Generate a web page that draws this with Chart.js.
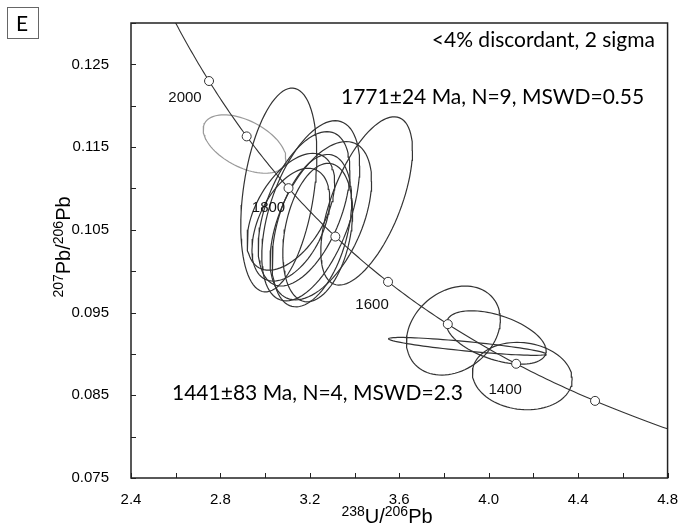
<!DOCTYPE html>
<html>
<head>
<meta charset="utf-8">
<script src="https://cdn.jsdelivr.net/npm/chart.js@4/dist/chart.umd.min.js"></script>
<style>
  body { margin: 0; background: #fff; }
  #wrap { width: 683px; height: 529px; }
</style>
</head>
<body>
<div id="wrap"><canvas id="myChart"></canvas></div>
<script>
// decay constants for the concordia curve
const lambda238 = 1.55125e-10;
const lambda235 = 9.8485e-10;
const u238u235 = 137.88;

const markerAges = [1300, 1400, 1500, 1600, 1700, 1800, 1900, 2000];
const labelAges = [2000, 1800, 1600, 1400];
const curveAges = [1150, 2200];

// error ellipses: centre, 2 sigma half widths, error correlation
const ellX = [3.061, 3.115, 3.204, 3.249, 3.174, 3.209, 3.235, 3.115, 3.454, 3.842, 4.034, 3.904, 4.150, 2.908];
const ellY = [0.10981, 0.10718, 0.10730, 0.10610, 0.10754, 0.10490, 0.10467, 0.10562, 0.10849, 0.09282, 0.09199, 0.09091, 0.08732, 0.11537];
const ellSX = [0.170, 0.196, 0.219, 0.227, 0.205, 0.178, 0.156, 0.174, 0.205, 0.210, 0.223, 0.352, 0.223, 0.185];
const ellSY = [0.01232, 0.00706, 0.01089, 0.00957, 0.00933, 0.00921, 0.00837, 0.00682, 0.01017, 0.00538, 0.00323, 0.00108, 0.00407, 0.00353];
const ellRho = [0.35, 0.5, 0.5, 0.5, 0.5, 0.4, 0.3, 0.45, 0.6, 0.25, -0.5, -0.85, -0.1, -0.5];
const ellUsed = [true, true, true, true, true, true, true, true, true, true, true, true, true, false];

const xTicks = ["2.4", "2.8", "3.2", "3.6", "4.0", "4.4", "4.8"];
const yTicks = ["0.075", "0.085", "0.095", "0.105", "0.115", "0.125"];

function concordia(age) {
    const t = age * 1e6;
    const e8 = Math.exp(lambda238 * t) - 1;
    const e5 = Math.exp(lambda235 * t) - 1;
    return { x: 1 / e8, y: e5 / e8 / u238u235 };
}

function ellipsePoints(i) {
    const pts = [];
    const s = Math.sqrt(1 - ellRho[i] * ellRho[i]);
    for (let k = 0; k <= 90; k++) {
        const a = 2 * Math.PI * k / 90;
        pts.push({
            x: ellX[i] + ellSX[i] * Math.cos(a),
            y: ellY[i] + ellSY[i] * (ellRho[i] * Math.cos(a) + s * Math.sin(a))
        });
    }
    return pts;
}

const curve = [];
for (let a = curveAges[0]; a <= curveAges[1]; a += 5) curve.push(concordia(a));

const datasets = [];
datasets.push({
    data: markerAges.map(concordia),
    showLine: false,
    pointRadius: 4.5,
    pointBackgroundColor: "#fff",
    pointBorderColor: "#333",
    pointBorderWidth: 1
});
datasets.push({
    data: curve,
    showLine: true,
    borderColor: "#333",
    borderWidth: 1.1,
    pointRadius: 0
});
for (let i = 0; i < ellX.length; i++) {
    datasets.push({
        data: ellipsePoints(i),
        showLine: true,
        borderColor: ellUsed[i] ? "#333" : "#9a9a9a",
        borderWidth: 1.2,
        pointRadius: 0,
        tension: 0
    });
}

const extras = {
    id: "extras",
    afterDatasetsDraw(chart) {
        const ctx = chart.ctx;
        const xs = chart.scales.x, ys = chart.scales.y;
        const a = chart.chartArea;
        ctx.save();
        // age labels beside concordia markers
        const offs = [[-24, 17], [-20, 20], [-16, 23], [-11, 26]];
        ctx.fillStyle = "#111";
        ctx.font = "15px 'Liberation Sans', Arial";
        ctx.textAlign = "center";
        ctx.textBaseline = "middle";
        labelAges.forEach((age, i) => {
            const p = concordia(age);
            ctx.fillText(String(age), xs.getPixelForValue(p.x) + offs[i][0], ys.getPixelForValue(p.y) + offs[i][1]);
        });

        // frame and inward ticks
        ctx.strokeStyle = "#222";
        ctx.lineWidth = 1.5;
        ctx.strokeRect(a.left, a.top, a.right - a.left, a.bottom - a.top);
        ctx.lineWidth = 1;
        ctx.beginPath();
        xs.ticks.forEach(t => {
            const px = Math.round(xs.getPixelForValue(t.value)) + 0.5;
            ctx.moveTo(px, a.bottom);
            ctx.lineTo(px, a.bottom - 5);
        });
        ys.ticks.forEach(t => {
            const py = Math.round(ys.getPixelForValue(t.value)) + 0.5;
            ctx.moveTo(a.left, py);
            ctx.lineTo(a.left + 5, py);
        });
        ctx.stroke();

        // annotations
        ctx.fillStyle = "#000";
        ctx.font = "21px Lato";
        ctx.textBaseline = "alphabetic";
        ctx.textAlign = "right";
        ctx.fillText("<4% discordant, 2 sigma", 655, 47);
        ctx.textAlign = "left";
        ctx.fillText("1771±24 Ma, N=9, MSWD=0.55", 341, 104);
        ctx.fillText("1441±83 Ma, N=4, MSWD=2.3", 172, 400);

        // panel letter
        ctx.strokeStyle = "#666";
        ctx.lineWidth = 1;
        ctx.strokeRect(7.5, 7.5, 31, 31);
        ctx.font = "21px Lato";
        ctx.textAlign = "center";
        ctx.fillText("E", 22, 31);

        // axis titles with superscripts
        function parts(list) {
            let w = 0;
            list.forEach(p => { ctx.font = p[1] + "px 'Liberation Sans', Arial"; w += ctx.measureText(p[0]).width; });
            return w;
        }
        function drawTitle(list, cx, base) {
            const w = parts(list);
            let x = cx - w / 2;
            ctx.textAlign = "left";
            list.forEach(p => {
                ctx.font = p[1] + "px 'Liberation Sans', Arial";
                ctx.fillText(p[0], x, base - p[2]);
                x += ctx.measureText(p[0]).width;
            });
        }
        const title = [["238", 14, 7], ["U/", 20, 0], ["206", 14, 7], ["Pb", 20, 0]];
        drawTitle(title, 387, 523);
        const ytitle = [["207", 14, 7], ["Pb/", 20, 0], ["206", 14, 7], ["Pb", 20, 0]];
        ctx.translate(70, 247);
        ctx.rotate(-Math.PI / 2);
        drawTitle(ytitle, 0, 0);
        ctx.restore();
    }
};

new Chart("myChart", {
    type: "scatter",
    data: { datasets: datasets },
    options: {
        responsive: true,
        maintainAspectRatio: false,
        animation: false,
        layout: { padding: { top: 17, right: 14, left: 0, bottom: 0 } },
        plugins: { legend: { display: false }, tooltip: { enabled: false } },
        scales: {
            x: {
                min: 2.4,
                max: 4.8,
                afterFit: s => { s.height = 51; },
                grid: { display: false },
                border: { display: false },
                ticks: {
                    stepSize: 0.2,
                    padding: 5,
                    maxRotation: 0,
                    autoSkip: false,
                    color: "#000",
                    font: { family: "'Liberation Sans', Arial", size: 15 },
                    callback: v => {
                        const n = Math.round(v * 10);
                        return (n - 24) % 4 === 0 ? xTicks[(n - 24) / 4] : "";
                    }
                }
            },
            y: {
                min: 0.075,
                max: 0.130,
                afterFit: s => { s.width = 131; },
                grid: { display: false },
                border: { display: false },
                ticks: {
                    stepSize: 0.005,
                    padding: 14,
                    autoSkip: false,
                    color: "#000",
                    font: { family: "'Liberation Sans', Arial", size: 15 },
                    callback: v => {
                        const n = Math.round(v * 1000);
                        return (n - 75) % 10 === 0 ? yTicks[(n - 75) / 10] : "";
                    }
                }
            }
        }
    },
    plugins: [extras]
});
</script>
</body>
</html>
